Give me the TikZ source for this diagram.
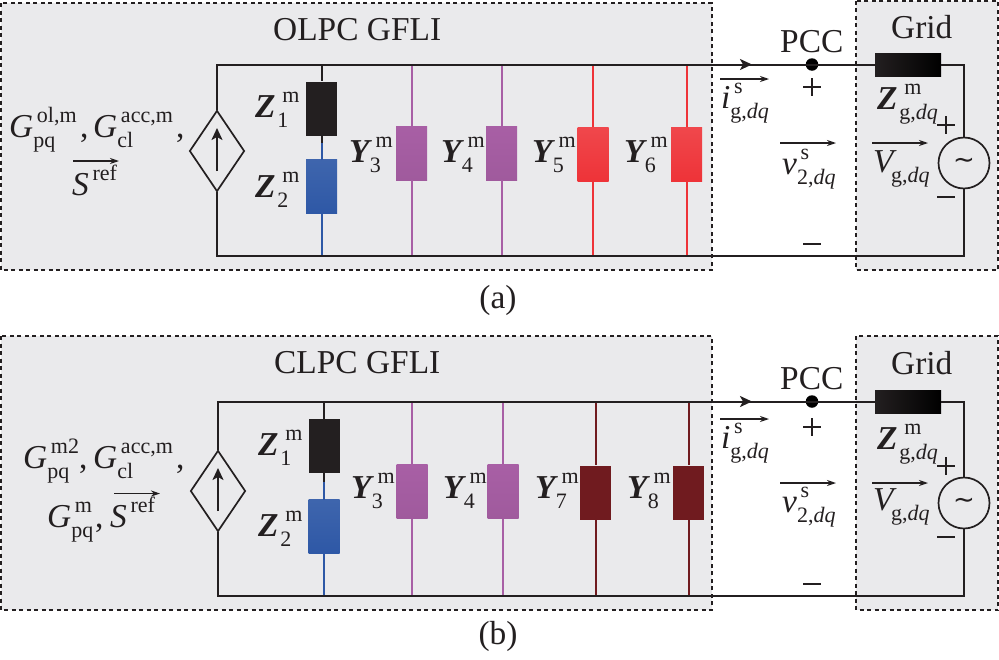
\documentclass[tikz,border=0pt]{standalone}
\usepackage{fontspec}
\setmainfont{Liberation Serif}
\newfontfamily\symf{DejaVu Sans}
\usetikzlibrary{arrows.meta,shapes.geometric,calc}
\definecolor{inkc}{HTML}{231F20}
\definecolor{panelc}{HTML}{EAEAEC}
\definecolor{purplec}{HTML}{A85FA5}
\definecolor{redc}{HTML}{EE3338}
\definecolor{darkredc}{HTML}{701B1F}
\definecolor{bluec}{HTML}{2E58A6}
\newcommand\scrf{\fontsize{22}{22}\selectfont\upshape\mdseries}
\newcommand\SubSup[3]{\mbox{#1\setbox0=\hbox{\kern.11em\scrf #2}\setbox2=\hbox{\scrf #3}%
 \dimen0=\ifdim\wd0>\wd2 \wd0 \else\wd2 \fi
 \rlap{\raise.43em\box0}\rlap{\lower.31em\box2}\kern\dimen0}}
\newcommand\GG[2]{\SubSup{\textit{G}}{#1}{#2}}
\newcommand\ZZ[2]{\SubSup{\textbf{\textit{Z}}\kern.05em}{\kern.06em #1}{#2}}
\newcommand\YY[2]{\SubSup{\textbf{\textit{Y}}\kern-.07em}{\kern.1em #1}{#2}}
\newcommand\gdq{g,\textit{dq}}
\tikzset{
 wire/.style={line width=2pt,draw=inkc},
 thin wire/.style={line width=2pt},
 panel/.style={fill=panelc,draw=inkc,line width=1.5pt,dash pattern=on 4pt off 3.5pt},
 elem/.style={rectangle,inner sep=0pt,minimum width=31pt,minimum height=54pt},
 lab/.style={anchor=base west,inner sep=0pt,font=\fontsize{33.4}{36}\selectfont,text=inkc},
 sign/.style={line width=1.3pt,draw=inkc},
 flow/.style={line width=1.3pt,draw=inkc,-{Stealth[length=9pt,width=6pt]}},
 diam/.style={diamond,draw=inkc,line width=1.7pt,minimum width=55pt,minimum height=81pt,inner sep=0pt,aspect=0.68},
 acs/.style={circle,draw=inkc,line width=1.7pt,minimum size=51pt,inner sep=0pt,fill=panelc},
 pcc/.style={circle,fill=black,minimum size=12.5pt,inner sep=0pt},
 blackel/.style={elem,fill=inkc},
 blueel/.style={elem,top color=bluec!92!white,bottom color=bluec},
 purpleel/.style={elem,top color=purplec,bottom color=purplec!95!black},
 redel/.style={elem,top color=redc!90!white,bottom color=redc},
 darkel/.style={elem,fill=darkredc},
 gridz/.style={rectangle,inner sep=0pt,minimum width=66pt,minimum height=23pt,left color=inkc,right color=black},
 tipbig/.style={-{Stealth[length=12pt,width=11pt,inset=3pt]}},
 tilde/.style={font=\fontsize{26}{26}\selectfont\symf,inner sep=0pt,text=inkc},
}
% #1 name, #2 x, #3 y centre, #4 element style, #5 colour, #6 top wire y, #7 bottom wire y
\newcommand\branch[7]{%
 \node[#4] (#1) at (#2,#3) {};
 \coordinate (#1t) at (#2,#6);
 \coordinate (#1b) at (#2,#7);
 \draw[thin wire,draw=#5] (#1t) -- (#1.north);
 \draw[thin wire,draw=#5] (#1) -- (#1b);
}
\begin{document}
\begin{tikzpicture}[x=1pt,y=-1pt]
\useasboundingbox (0,0) rectangle (999,659);
% ---------- panel (a)
\draw[panel] (0.8,3) rectangle (712,270);
\draw[panel] (856,0.8) rectangle (998,270);
\coordinate (aTL) at (217,64.5);
\coordinate (aBL) at (217,256);
\coordinate (aBR) at (964,256);
\coordinate (aTR) at (964,64.5);
\node[diam] (aS) at (217,151) {};
\node[pcc] (aP) at (812,64.5) {};
\node[gridz] (aZg) at (908,64.5) {};
\node[acs] (aV) at (964,163) {};
\branch{aZ}{321.5}{108.5}{blackel}{inkc}{64.5}{148}
\draw[thin wire,draw=bluec] (321.5,143) -- (321.5,160);
\branch{aZb}{321.5}{186.5}{blueel}{bluec}{160}{256}
\branch{aYc}{411.5}{153}{purpleel}{purplec}{64.5}{256}
\branch{aYd}{501.5}{153}{purpleel}{purplec}{64.5}{256}
\branch{aYe}{593}{154}{redel}{redc}{64.5}{256}
\branch{aYf}{686.5}{154}{redel}{redc}{64.5}{256}
\draw[wire] (aS.north) -- (aTL) -- (aZg.west);
\draw[wire] (aZg.east) -- (aTR) -- (aV.north);
\draw[wire] (aS.south) -- (aBL) -- (aBR) -- (aV.south);
\coordinate (aAs) at (217,171); \coordinate (aAe) at (217,128);
\draw[wire,tipbig] (aAs) -- (aAe);
\coordinate (aWs) at (735,64.5); \coordinate (aWe) at (752,64.5);
\draw[wire,tipbig] (aWs) -- (aWe);
\node[tilde] (aTil) at (aV) {∼};
\node[lab] (aT1) at (273,40) {OLPC GFLI};
\node[lab] (aT2) at (780,52) {PCC};
\node[lab] (aT3) at (891,38) {Grid};
\node[lab] (aG1) at (9,137) {\GG{ol,m}{pq}};
\node[lab] (aC1) at (80,137) {,};
\node[lab] (aG2) at (93,137) {\GG{acc,m}{cl}};
\node[lab] (aC2) at (176,137) {,};
\node[lab] (aSr) at (72,195) {\SubSup{\textit{S}}{ref}{}};
\coordinate (aSa) at (73,161); \coordinate (aSb) at (119,161);
\draw[flow] (aSa) -- (aSb);
\node[lab] at (255,117) {\ZZ{m}{1}};
\node[lab] at (255,197) {\ZZ{m}{2}};
\node[lab] at (349,162) {\YY{m}{3}};
\node[lab] at (441,162) {\YY{m}{4}};
\node[lab] at (532,162) {\YY{m}{5}};
\node[lab] at (624,162) {\YY{m}{6}};
\node[lab] at (721,108) {\SubSup{\textit{i}}{s}{\gdq}};
\node[lab] at (782,174) {\SubSup{\textit{v}}{s}{2,\textit{dq}}};
\node[lab] at (873,172) {\SubSup{\textit{V}\kern-.17em}{}{\gdq}};
\node[lab] at (877,109) {\ZZ{m}{\gdq}};
\coordinate (aia) at (720,79); \coordinate (aib) at (769,79);
\draw[flow] (aia) -- (aib);
\coordinate (ava) at (780,143); \coordinate (avb) at (836,143);
\draw[flow] (ava) -- (avb);
\coordinate (aVa) at (872,143); \coordinate (aVb) at (928,143);
\draw[flow] (aVa) -- (aVb);
\draw[sign] (803,87) -- (821,87) (812,78) -- (812,96);
\draw[sign] (803,244) -- (821,244);
\draw[sign] (937,125) -- (955,125) (946,116) -- (946,134);
\draw[sign] (937,197) -- (955,197);
\node[lab,anchor=center] (aCap) at (498,300) {(a)};
% ---------- panel (b)
\draw[panel] (0.8,336) rectangle (712,610);
\draw[panel] (856,336) rectangle (998,610);
\coordinate (bTL) at (218,401.5);
\coordinate (bBL) at (218,596);
\coordinate (bBR) at (964,596);
\coordinate (bTR) at (964,401.5);
\node[diam] (bS) at (218,491) {};
\node[pcc] (bP) at (812,401.5) {};
\node[gridz] (bZg) at (908,401.5) {};
\node[acs] (bV) at (964,503) {};
\branch{bZ}{324}{446}{blackel}{inkc}{401.5}{487}
\draw[thin wire,draw=bluec] (324,482) -- (324,499);
\branch{bZb}{324}{526}{blueel}{bluec}{499}{596}
\branch{bYc}{412}{491.5}{purpleel}{purplec}{401.5}{596}
\branch{bYd}{503}{491.5}{purpleel}{purplec}{401.5}{596}
\branch{bYe}{595.5}{492.5}{darkel}{darkredc}{401.5}{596}
\branch{bYf}{688.5}{492.5}{darkel}{darkredc}{401.5}{596}
\draw[wire] (bS.north) -- (bTL) -- (bZg.west);
\draw[wire] (bZg.east) -- (bTR) -- (bV.north);
\draw[wire] (bS.south) -- (bBL) -- (bBR) -- (bV.south);
\coordinate (bAs) at (218,511); \coordinate (bAe) at (218,468);
\draw[wire,tipbig] (bAs) -- (bAe);
\coordinate (bWs) at (735,401.5); \coordinate (bWe) at (752,401.5);
\draw[wire,tipbig] (bWs) -- (bWe);
\node[tilde] (bTil) at (bV) {∼};
\node[lab] (bT1) at (274,373) {CLPC GFLI};
\node[lab] (bT2) at (780,389) {PCC};
\node[lab] (bT3) at (891,374) {Grid};
\node[lab] (bG1) at (23,468) {\GG{m2}{pq}};
\node[lab] (bC1) at (79,468) {,};
\node[lab] (bG2) at (93,468) {\GG{acc,m}{cl}};
\node[lab] (bC2) at (176,468) {,};
\node[lab] (bG3) at (47,527) {\GG{m}{pq}};
\node[lab] (bC3) at (95,527) {,};
\node[lab] (bSr) at (110,527) {\SubSup{\textit{S}}{ref}{}};
\coordinate (bSa) at (114,493.5); \coordinate (bSb) at (160,493.5);
\draw[flow] (bSa) -- (bSb);
\node[lab] at (258,455) {\ZZ{m}{1}};
\node[lab] at (258,536) {\ZZ{m}{2}};
\node[lab] at (351,498) {\YY{m}{3}};
\node[lab] at (443,498) {\YY{m}{4}};
\node[lab] at (535,498) {\YY{m}{7}};
\node[lab] at (627,498) {\YY{m}{8}};
\node[lab] at (721,448) {\SubSup{\textit{i}}{s}{\gdq}};
\node[lab] at (782,512) {\SubSup{\textit{v}}{s}{2,\textit{dq}}};
\node[lab] at (873,510) {\SubSup{\textit{V}\kern-.17em}{}{\gdq}};
\node[lab] at (877,449) {\ZZ{m}{\gdq}};
\coordinate (bia) at (720,419); \coordinate (bib) at (769,419);
\draw[flow] (bia) -- (bib);
\coordinate (bva) at (780,483); \coordinate (bvb) at (836,483);
\draw[flow] (bva) -- (bvb);
\coordinate (bVa) at (872,483); \coordinate (bVb) at (928,483);
\draw[flow] (bVa) -- (bVb);
\draw[sign] (803,427) -- (821,427) (812,418) -- (812,436);
\draw[sign] (803,584) -- (821,584);
\draw[sign] (937,466) -- (955,466) (946,457) -- (946,475);
\draw[sign] (937,537) -- (955,537);
\node[lab,anchor=center] (bCap) at (498,636) {(b)};
\end{tikzpicture}
\end{document}
